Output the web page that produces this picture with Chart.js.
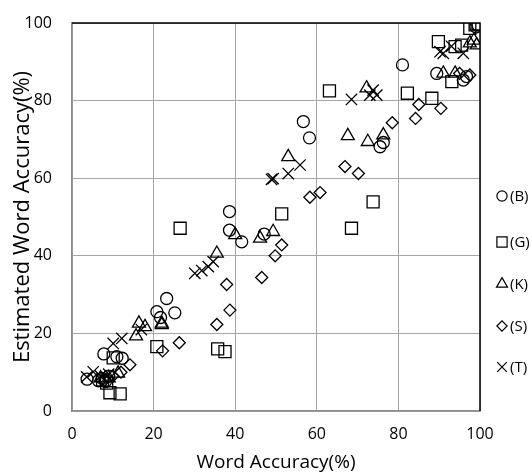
<!DOCTYPE html>
<html>
<head>
<meta charset="utf-8">
<script src="https://cdn.jsdelivr.net/npm/chart.js@4.4.0/dist/chart.umd.min.js"></script>
<style>
  html, body { margin: 0; padding: 0; background: #fff; }
  #wrap { width: 532px; height: 472px; }
</style>
</head>
<body>
<div id="wrap"><canvas id="c" width="532" height="472"></canvas></div>
<script>
// values: [word accuracy, estimated word accuracy]
const seriesB = [[99.5,99.5],[99,99],[81,89.2],[89.4,87],[95.9,85.3],[96.7,86.2],[75.5,68.1],[76.3,69.2],
  [56.7,74.6],[58.2,70.4],[38.6,51.4],[38.6,46.6],[41.6,43.6],[47.1,45.6],[23.2,29],[20.8,25.6],[21.7,24.1],
  [25.2,25.3],[7.8,14.7],[12.3,13.6],[11,14],[3.7,8.2],[7.4,8.4],[8.2,7.6],[6.5,7.8],[9,9]];
const seriesG = [[99.5,99.8],[98.8,99.5],[97.5,98.6],[89.8,95.2],[93.9,93.9],[95.5,94.3],[93.1,84.9],[63.1,82.5],
  [82.2,81.9],[88.2,80.6],[73.8,53.9],[68.5,47.1],[51.4,50.8],[26.5,47.1],[20.8,16.6],[35.7,16],[37.5,15.3],
  [9.3,4.7],[11.8,4.4],[10.1,13.7],[7.5,8],[8.5,7.2]];
const seriesK = [[99.2,94.3],[97.5,94.8],[98.5,95.5],[91,87],[93.9,87],[72.2,83.2],[67.6,70.9],[72.5,69.4],
  [76.3,71.1],[53,65.5],[49.3,46.2],[46.1,44.5],[40,45.4],[35.5,40.6],[22,22.6],[16.4,22.6],[17.9,21.7],
  [15.7,19.3],[22,22.2],[11.3,9.7],[9,8.5],[7,8.5]];
const seriesS = [[97.5,86.6],[95,87],[85,79],[90.4,78],[84.2,75.4],[78.5,74.3],[66.9,63],[70.2,61.2],
  [60.8,56.3],[58.3,55.1],[51.4,42.8],[49.8,40],[46.5,34.4],[37.9,32.6],[38.7,26],[35.5,22.3],[26.3,17.6],
  [22.2,15.5],[14.2,11.9],[12,10],[8,8],[10,9]];
const seriesT = [[90.2,92.6],[91,92.2],[95.9,92.2],[93,94],[68.5,80.3],[73,81.4],[74.7,81.4],[73.8,82.7],
  [55.9,63.4],[53,61.2],[49.3,59.9],[48.9,59.7],[30.1,35.5],[31.8,36.2],[33.4,37.2],[34.6,38.5],[17,21],
  [10.1,17.4],[12.2,18.7],[3.6,8.8],[5.2,10.1],[7,9],[9,9.5]];

const seriesNames = ['(B)', '(G)', '(K)', '(S)', '(T)'];
const seriesData = [seriesB, seriesG, seriesK, seriesS, seriesT];
const markers = ['circle', 'rect', 'triangle', 'rectRot', 'crossRot'];
const markerSizes = [6, 8.5, 7.5, 6, 8];

const FONT = '"Open Sans", sans-serif';

// legend on the right, drawn by hand so it can sit where the original has it
const sideLegend = {
  id: 'sideLegend',
  afterDraw(chart) {
    const ctx = chart.ctx;
    const area = chart.chartArea;
    // black frame on top and right
    ctx.save();
    ctx.strokeStyle = '#000';
    ctx.lineWidth = 1.5;
    ctx.beginPath();
    ctx.moveTo(area.left, area.top);
    ctx.lineTo(area.right, area.top);
    ctx.lineTo(area.right, area.bottom);
    ctx.stroke();

    const ys = [196, 242, 284, 326, 367];
    ctx.font = '15px ' + FONT;
    ctx.textBaseline = 'middle';
    seriesNames.forEach((name, i) => {
      ctx.fillStyle = 'rgba(0,0,0,0)';
      ctx.strokeStyle = '#000';
      ctx.lineWidth = 1.2;
      Chart.helpers.drawPoint(ctx, {
        pointStyle: markers[i], radius: markerSizes[i] * 0.85, rotation: 0, borderWidth: 1.2
      }, 502, ys[i]);
      ctx.fillStyle = '#000';
      ctx.fillText(name, 510, ys[i] + 1);
    });
    ctx.restore();
  }
};

new Chart(document.getElementById('c'), {
  type: 'scatter',
  data: {
    datasets: seriesData.map((d, i) => ({
      label: seriesNames[i],
      data: d.map(p => ({ x: p[0], y: p[1] })),
      pointStyle: markers[i],
      pointRadius: markerSizes[i],
      pointBorderColor: '#000',
      pointBackgroundColor: 'rgba(0,0,0,0)',
      pointBorderWidth: 1.3
    }))
  },
  options: {
    responsive: false,
    animation: false,
    layout: { padding: { left: 0, right: 52, top: 23, bottom: 0 } },
    plugins: {
      legend: { display: false },
      tooltip: { enabled: false }
    },
    scales: {
      x: {
        min: 0, max: 100,
        afterFit(scale) { scale.height = 61; scale.paddingLeft = 0; scale.paddingRight = 0; },
        ticks: { stepSize: 20, color: '#000', padding: 14, font: { family: FONT, size: 16 } },
        grid: { color: '#a6a6a6', lineWidth: 1, drawTicks: false },
        border: { color: '#8c8c8c', width: 1.5 },
        title: { display: true, text: 'Word Accuracy(%)', color: '#000', font: { family: FONT, size: 19, lineHeight: 1 }, padding: { top: 0, bottom: 0 } }
      },
      y: {
        min: 0, max: 100,
        afterFit(scale) { scale.width = 72; scale.paddingTop = 0; scale.paddingBottom = 0; },
        ticks: { stepSize: 20, color: '#000', padding: 20, font: { family: FONT, size: 16 } },
        grid: { color: '#a6a6a6', lineWidth: 1, drawTicks: false },
        border: { color: '#8c8c8c', width: 1.5 },
        title: { display: true, text: 'Estimated Word Accuracy(%)', color: '#000', font: { family: FONT, size: 22, lineHeight: 1 }, padding: { top: 12, bottom: 0 } }
      }
    }
  },
  plugins: [sideLegend]
});
</script>
</body>
</html>
